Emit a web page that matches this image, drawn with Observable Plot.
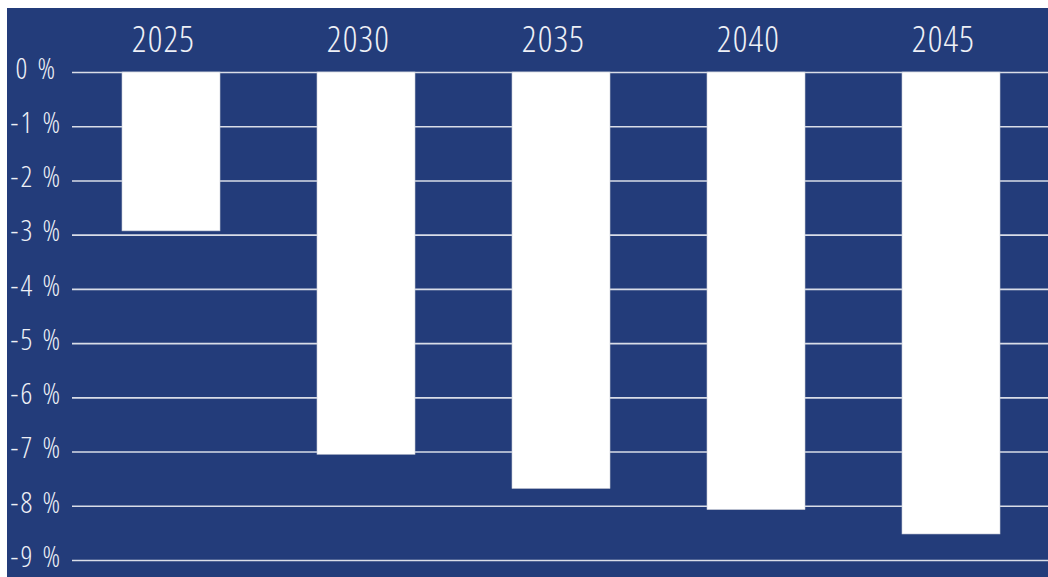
<!DOCTYPE html>
<html>
<head>
<meta charset="utf-8">
<script src="https://cdn.jsdelivr.net/npm/d3@7"></script>
<script src="https://cdn.jsdelivr.net/npm/@observablehq/plot@0.6"></script>
<style>
  html, body { margin: 0; padding: 0; background: #ffffff; }
  #chart svg { display: block; font-family: "Open Sans", "Liberation Sans Narrow", sans-serif; font-stretch: 75%; font-weight: 300; }
</style>
</head>
<body>
<div id="chart"></div>
<script>
const years = ["2025", "2030", "2035", "2040", "2045"];
const values = [-2.93, -7.05, -7.68, -8.07, -8.52];
const tickValues = [0, -1, -2, -3, -4, -5, -6, -7, -8, -9];
const tickLabels = ["0 %", "-1 %", "-2 %", "-3 %", "-4 %", "-5 %", "-6 %", "-7 %", "-8 %", "-9 %"];

const bg = "#233c7a";
const data = years.map((y, i) => ({year: y, value: values[i]}));
const ticks = tickValues.map((v, i) => ({v, label: tickLabels[i]}));

const background = (index, scales, values, dims) => {
  const r = document.createElementNS("http://www.w3.org/2000/svg", "rect");
  r.setAttribute("x", 7);
  r.setAttribute("y", 8);
  r.setAttribute("width", dims.width - 7);
  r.setAttribute("height", dims.height - 8);
  r.setAttribute("fill", bg);
  return r;
};

const chart = Plot.plot({
  width: 1048,
  height: 577,
  marginTop: 72,
  marginBottom: 17,
  marginLeft: 72,
  marginRight: 0,
  style: {background: "#ffffff", overflow: "visible"},
  x: {domain: years, paddingInner: 0.5, paddingOuter: 0.246, align: 0.51, axis: null},
  y: {domain: [-9, 0], axis: null},
  marks: [
    background,
    Plot.ruleY(tickValues, {stroke: "#d9dde8", strokeWidth: 1.6}),
    Plot.barY(data, {x: "year", y: "value", fill: "#ffffff", stroke: "#c8ccd6", strokeWidth: 0.6}),
    Plot.text(years, {x: d => d, y: 0, dx: -8, dy: -32, text: d => d, fill: "#eef0f6", fontSize: 36}),
    Plot.text(ticks, {y: "v", text: "label", frameAnchor: "left", dx: -36, dy: -3, textAnchor: "middle", fill: "#eef0f6", fontSize: 29})
  ]
});
const textGroups = chart.querySelectorAll('g[aria-label="text"]');
if (textGroups[0]) textGroups[0].setAttribute("letter-spacing", "1.2px");
if (textGroups[1]) textGroups[1].setAttribute("letter-spacing", "2.4px");
document.getElementById("chart").appendChild(chart);
</script>
</body>
</html>
